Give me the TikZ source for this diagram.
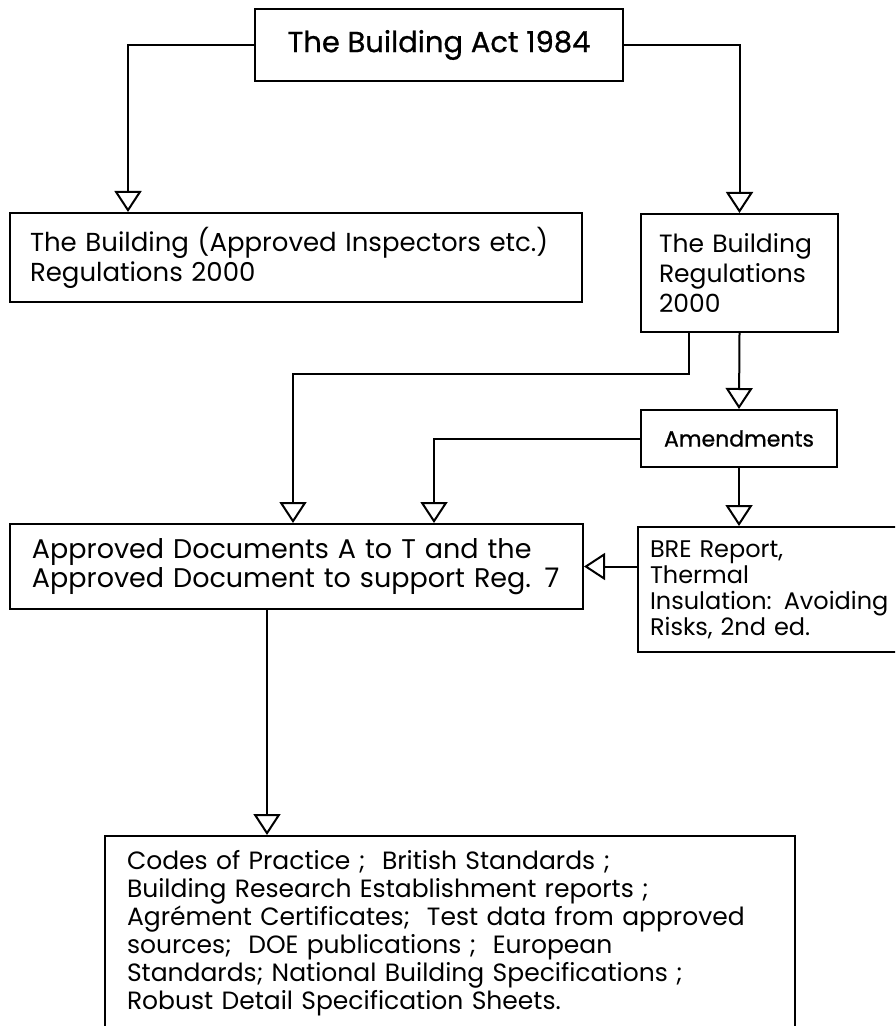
\documentclass[tikz,border=0pt]{standalone}
\usepackage{fontspec}
\setmainfont{Poppins}
\newfontfamily\headfont[FakeBold=0.8]{Poppins}
\usepackage{tikz}
\usetikzlibrary{calc,arrows.meta}

\tikzset{
  box/.style={draw,rectangle,line width=1pt,align=left,inner xsep=11pt,inner ysep=0pt},
  tri/.style={line width=1pt,-{Triangle[open,length=10.5pt,width=13.5pt]}}
}

\begin{document}
\begin{tikzpicture}[x=0.5pt,y=-0.5pt,line width=1pt]
  \useasboundingbox (0,0) rectangle (895,1026);
  \clip (0,0) rectangle (895,1026);
  \node[box,align=center,minimum width=184pt,minimum height=36pt,font=\headfont\fontsize{14.5pt}{16pt}\selectfont] (act) at (439,45) {The Building Act 1984};
  \node[box,inner xsep=10pt,text width=266pt,minimum height=44.5pt,font=\fontsize{13pt}{15pt}\selectfont] (appinsp) at (296,257.5)
    {The Building (Approved Inspectors etc.)\\Regulations 2000};
  \node[box,inner xsep=9pt,text width=80.5pt,minimum height=59pt,font=\fontsize{12.5pt}{15pt}\selectfont] (regs) at (739.5,273)
    {The Building\\Regulations\\2000};
  \node[box,align=center,minimum width=98pt,minimum height=28.5pt,font=\headfont\fontsize{11pt}{13pt}\selectfont] (amend) at (739,438.5) {Amendments};
  \node[box,text width=264.5pt,minimum height=42.5pt,font=\fontsize{13.5pt}{14.5pt}\selectfont] (appdocs) at (296.5,566.5)
    {Approved Documents A to T and the\\Approved Document to support Reg. 7};
  \node[box,inner xsep=6pt,text width=134pt,minimum height=62.5pt,font=\fontsize{12pt}{13pt}\selectfont] (bre) at (784,589.5)
    {BRE Report,\\Thermal\\Insulation: Avoiding\\Risks, 2nd ed.};
  \node[box,text width=323pt,minimum height=97pt,font=\fontsize{12.5pt}{14pt}\selectfont] (codes) at (450,933)
    {Codes of Practice ; \ British Standards ;\\
     Building Research Establishment reports ;\\
     Agrément Certificates; \ Test data from approved\\
     sources; \ DOE publications ; \ European\\
     Standards; National Building Specifications ;\\
     Robust Detail Specification Sheets.};
  \draw[tri] (act.west) -| ($(appinsp.north west)+(119,0)$);
  \draw[tri] (act.east) -| (regs.north);
  \draw[tri] ($(regs.south west)+(49,0)$) -- ++(0,41) -| ($(appdocs.north west)+(284,0)$);
  \draw[tri] (regs.south) -- (amend.north);
  \draw[tri] (amend.west) -| ($(appdocs.north west)+(425,0)$);
  \draw[tri] (amend.south) -- (amend.south |- bre.north);
  \draw[tri] (bre.west |- appdocs.east) -- (appdocs.east);
  \draw[tri] ($(appdocs.south west)+(258,0)$) -- ($(codes.north west)+(163,0)$);
\end{tikzpicture}
\end{document}
